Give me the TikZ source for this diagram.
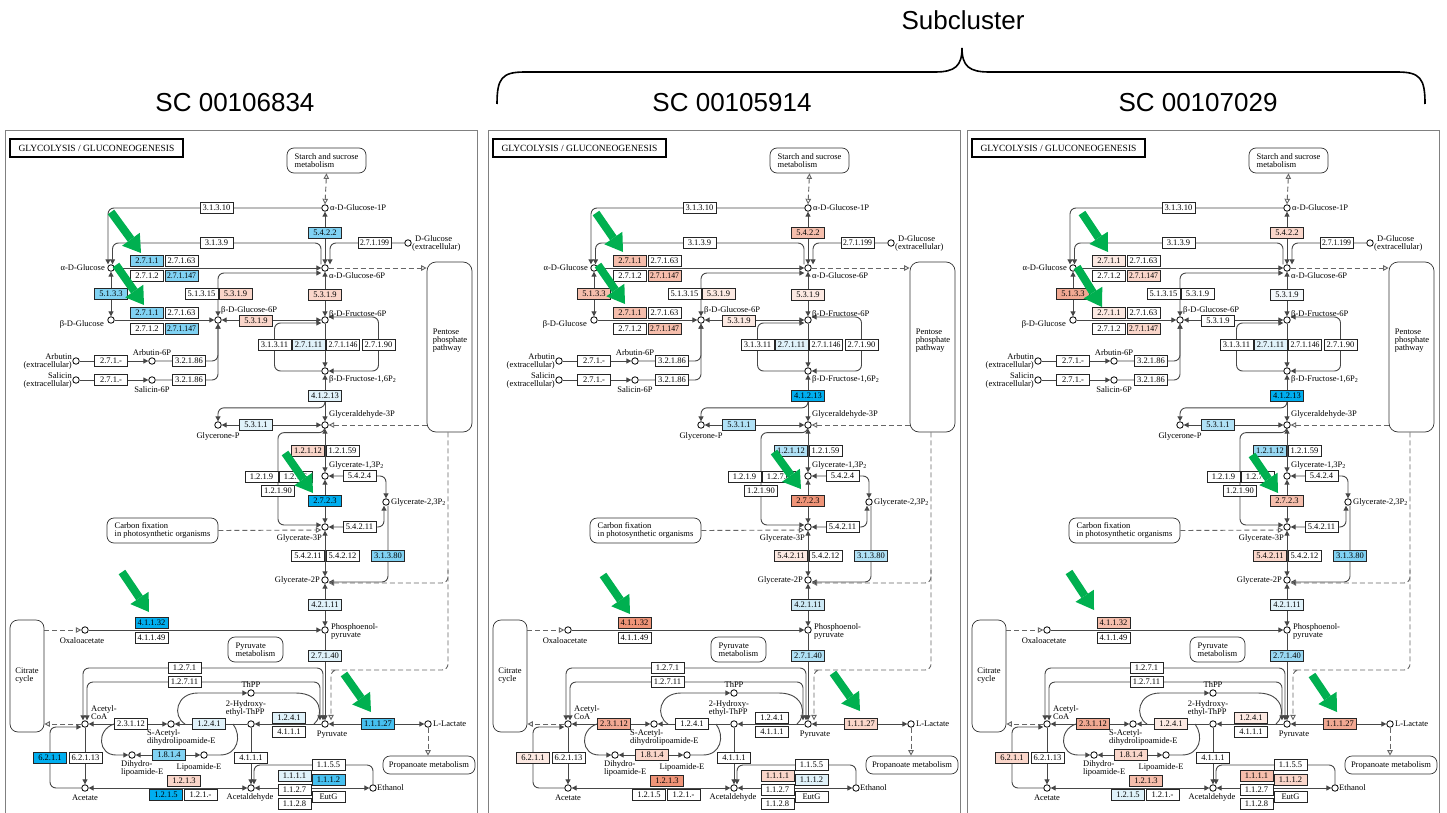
\documentclass[tikz,border=0pt]{standalone}
\usepackage{fontspec}
\usepackage{graphicx}
\setmainfont{Liberation Serif}
\newfontfamily\hfont{Liberation Sans}
\usetikzlibrary{arrows.meta,calc}

\pgfdeclarelayer{frame}
\pgfdeclarelayer{lines}
\pgfdeclarelayer{front}
\pgfsetlayers{frame,lines,main,front}

% enzyme highlight colours
\definecolor{kStrong}{RGB}{0,174,239}
\definecolor{kBlueM}{RGB}{70,192,240}
\definecolor{kBlue}{RGB}{128,210,243}
\definecolor{kBlueL2}{RGB}{152,216,243}
\definecolor{kBlueL}{RGB}{176,225,246}
\definecolor{kBlueVL2}{RGB}{205,233,246}
\definecolor{kBlueVL}{RGB}{224,242,250}
\definecolor{kBlueVVL}{RGB}{244,249,252}
\definecolor{kPinkVL}{RGB}{252,233,226}
\definecolor{kPinkL}{RGB}{250,214,202}
\definecolor{kPink}{RGB}{246,190,172}
\definecolor{kSalmonL}{RGB}{241,168,146}
\definecolor{kSalmon}{RGB}{239,148,120}
\definecolor{kGreen}{RGB}{0,176,80}

\tikzset{
  ez/.style={draw=black!85, line width=0.7pt, minimum width=33pt, minimum height=11pt,
             inner sep=0pt, font=\fontsize{8.5}{8.5}\selectfont},
  cpd/.style={circle, draw=black, line width=0.8pt, fill=white, minimum size=6.5pt, inner sep=0pt},
  lbl/.style={font=\fontsize{8.5}{8}\selectfont, inner sep=0pt, align=left},
  map/.style={draw=black!80, rounded corners=7pt, line width=0.7pt, fill=white,
              font=\fontsize{8.5}{8}\selectfont, align=left, inner sep=0pt},
  ln/.style={draw=black!72, line width=0.9pt},
  dln/.style={draw=black!60, line width=0.9pt, dash pattern=on 5pt off 3pt},
  rc/.style={rounded corners=6pt},
  kt/.tip={Triangle[length=5pt,width=5pt]},
  ko/.tip={Triangle[open,length=5.5pt,width=5.5pt]},
  garrow/.style={draw=kGreen, line width=8pt, -{Triangle[length=17pt,width=22pt,line width=0pt]}},
  title/.style={font=\hfont\fontsize{26}{26}\selectfont, inner sep=0pt},
}

\newsavebox\ezbox
\newcommand\fitlabel[1]{\sbox\ezbox{#1}\ifdim\wd\ezbox>29pt\resizebox{29pt}{\height}{#1}\else#1\fi}
\newcommand\fc[3]{\expandafter\def\csname fill:#1:#2\endcsname{#3}}
\newcommand\enz[3]{%
  \ifcsname fill:\pid:#1\endcsname
    \edef\ezfill{\csname fill:\pid:#1\endcsname}%
  \else\def\ezfill{white}\fi
  \node[ez,fill=\ezfill] (#1) at (#2) {\fitlabel{#3}};}
\newcommand\cpd[2]{\node[cpd] (#1) at (#2) {};}
\newcommand\lab[4]{\node[lbl,anchor=#3] (#1) at (#2) {#4};}
\newcommand\two{\raisebox{-1.2pt}{\fontsize{6}{6}\selectfont 2}}
\newcommand\garr[3]{\coordinate (#1s) at (#2); \coordinate (#1t) at (#3); \draw[garrow] (#1s) -- (#1t);}

% ---- fills, panel 1
\fc{1}{e2711a}{kBlue}\fc{1}{e271147a}{kBlue}\fc{1}{e2711b}{kBlue}\fc{1}{e271147b}{kBlue}
\fc{1}{e5133}{kBlue}\fc{1}{e5422}{kBlue}
\fc{1}{e5319a}{kPinkL}\fc{1}{e5319b}{kPinkL}\fc{1}{e5319c}{kPinkL}
\fc{1}{e27111}{kBlueVL}\fc{1}{e41213}{kBlueVL}\fc{1}{e5311}{kBlueVL}
\fc{1}{e12112}{kPinkL}\fc{1}{e2723}{kStrong}\fc{1}{e31380}{kBlue}
\fc{1}{e42111}{kBlueVL}\fc{1}{e27140}{kBlueVL}\fc{1}{e41132}{kStrong}
\fc{1}{e1241a}{kBlueVL}\fc{1}{e1241b}{kBlueVL}\fc{1}{e1814}{kBlue}
\fc{1}{e6211}{kStrong}\fc{1}{e1213}{kPinkL}\fc{1}{e1215}{kStrong}
\fc{1}{e1111}{kBlueVL}\fc{1}{e1112}{kBlueM}\fc{1}{e11127}{kBlueM}
% ---- fills, panel 2
\fc{2}{e5422}{kPink}\fc{2}{e2711a}{kPink}\fc{2}{e271147a}{kPink}\fc{2}{e5133}{kPink}
\fc{2}{e2711b}{kPink}\fc{2}{e271147b}{kPink}
\fc{2}{e5319a}{kPinkVL}\fc{2}{e5319b}{kPinkVL}\fc{2}{e5319c}{kPinkVL}
\fc{2}{e27111}{kBlueVL}\fc{2}{e41213}{kStrong}\fc{2}{e5311}{kBlueL}\fc{2}{e12112}{kBlueL}
\fc{2}{e2723}{kSalmon}\fc{2}{e54211b}{kPinkVL}\fc{2}{e31380}{kBlueL}
\fc{2}{e42111}{kBlueVL2}\fc{2}{e27140}{kBlueL}\fc{2}{e41132}{kSalmon}
\fc{2}{e23112}{kSalmonL}\fc{2}{e1814}{kPinkL}\fc{2}{e6211}{kPinkVL}
\fc{2}{e1213}{kSalmon}\fc{2}{e1111}{kPinkL}\fc{2}{e1112}{kBlueVL}\fc{2}{e11127}{kPinkL}
% ---- fills, panel 3
\fc{3}{e5422}{kPinkL}\fc{3}{e2711a}{kPinkVL}\fc{3}{e271147a}{kPinkL}
\fc{3}{e2711b}{kPinkVL}\fc{3}{e271147b}{kPinkL}\fc{3}{e5133}{kSalmonL}
\fc{3}{e5319b}{kBlueVVL}
\fc{3}{e27111}{kBlueVL}\fc{3}{e41213}{kStrong}\fc{3}{e5311}{kBlueL}\fc{3}{e12112}{kBlueL2}
\fc{3}{e2723}{kPink}\fc{3}{e54211b}{kPinkL}\fc{3}{e31380}{kBlue}
\fc{3}{e42111}{kBlueVL}\fc{3}{e27140}{kBlueL2}\fc{3}{e41132}{kPink}
\fc{3}{e23112}{kSalmonL}\fc{3}{e1241a}{kPinkVL}\fc{3}{e1241b}{kPinkVL}
\fc{3}{e1814}{kPinkL}\fc{3}{e6211}{kPinkL}\fc{3}{e1213}{kPink}
\fc{3}{e1215}{kBlueVL}\fc{3}{e1111}{kPink}\fc{3}{e1112}{kPinkL}\fc{3}{e11127}{kSalmonL}

% ---- one glycolysis map
\newcommand\panel[2]{%
\def\pid{#1}%
\begin{scope}[shift={(#2,0)}, name prefix=p#1-]
  \begin{pgfonlayer}{frame}
    \draw[black!50, line width=1pt] (5,131) rectangle (477,818);
  \end{pgfonlayer}
  % title and map boxes
  \node[draw=black, line width=1.1pt, minimum width=173pt, minimum height=18pt, inner sep=0pt,
        font=\fontsize{9.5}{9.5}\selectfont] (mTitle) at (96.5,148) {GLYCOLYSIS / GLUCONEOGENESIS};
  \node[map, minimum width=79pt, minimum height=25pt] (mStarch) at (326.5,160.5) {Starch and sucrose\\metabolism};
  \node[map, minimum width=45pt, minimum height=170pt, rounded corners=9pt] (mPentose) at (449.5,347) {};
  \node[lbl] (tPentose) at (450,341) {Pentose\\phosphate\\pathway};
  \node[map, minimum width=111pt, minimum height=25pt] (mCarbon) at (162.5,530.5) {Carbon fixation\\in photosynthetic organisms};
  \node[map, minimum width=34pt, minimum height=112pt, rounded corners=8pt] (mCitrate) at (27,676) {Citrate\\cycle};
  \node[map, minimum width=55pt, minimum height=25pt] (mPyrMet) at (255.5,649.5) {Pyruvate\\metabolism};
  \node[map, minimum width=92pt, minimum height=18pt] (mPropan) at (429,765) {Propanoate metabolism};
  % compounds
  \cpd{cG1P}{325,208}
  \cpd{cGlcA}{111,268}
  \cpd{cG6P}{325,268}
  \cpd{cDGlcX}{408,243}
  \cpd{cGlcB}{111,320}
  \cpd{cBG6P}{218,320}
  \cpd{cF6P}{325,320}
  \cpd{cArb}{76,361}
  \cpd{cArb6P}{152,361}
  \cpd{cSal}{76,380}
  \cpd{cSal6P}{152,380}
  \cpd{cF16}{325,371}
  \cpd{cGAP}{325,425}
  \cpd{cDHAP}{218,425}
  \cpd{cG13}{325,476}
  \cpd{cG23}{386,502}
  \cpd{cG3P}{325,527}
  \cpd{cG2P}{325,580}
  \cpd{cPEP}{325,630}
  \cpd{cPyr}{325,724}
  \cpd{cLac}{428,724}
  \cpd{cOAA}{85,630}
  \cpd{cAcCoA}{85,724}
  \cpd{cAcetate}{85,788}
  \cpd{cSAc}{171,724}
  \cpd{cHE}{251,724}
  \cpd{cThPP}{251,693}
  \cpd{cDihydro}{132,755}
  \cpd{cLipo}{204,755}
  \cpd{cAcald}{251,788}
  \cpd{cEtOH}{373,788}
  % compound names
  \lab{tG1P}{330,208}{west}{α-D-Glucose-1P}
  \lab{tGlcA}{105,268}{east}{α-D-Glucose}
  \lab{tG6P}{329,276}{west}{α-D-Glucose-6P}
  \lab{tDGlcX}{412,243}{west}{\hspace*{3pt}D-Glucose\\(extracellular)}
  \lab{tGlcB}{104,324}{east}{β-D-Glucose}
  \lab{tBG6P}{221,310}{west}{β-D-Glucose-6P}
  \lab{tF6P}{329,314}{west}{β-D-Fructose-6P}
  \lab{tArb}{72,361}{east,align=right}{Arbutin\\(extracellular)}
  \lab{tArb6P}{152,353}{center}{Arbutin-6P}
  \lab{tSal}{72,380}{east,align=right}{Salicin\\(extracellular)}
  \lab{tSal6P}{152,389.5}{center}{Salicin-6P}
  \lab{tF16}{329,379}{west}{β-D-Fructose-1,6P\two}
  \lab{tGAP}{329,414}{west}{Glyceraldehyde-3P}
  \lab{tDHAP}{218,436}{center}{Glycerone-P}
  \lab{tG13}{329,465}{west}{Glycerate-1,3P\two}
  \lab{tG23}{391,502}{west}{Glycerate-2,3P\two}
  \lab{tG3P}{322,538}{east}{Glycerate-3P}
  \lab{tG2P}{320,580}{east}{Glycerate-2P}
  \lab{tPEP}{331,631}{west}{Phosphoenol-\\pyruvate}
  \lab{tOAA}{82,641}{center}{Oxaloacetate}
  \lab{tPyr}{332,735}{center}{Pyruvate}
  \lab{tLac}{433,724}{west}{L-Lactate}
  \lab{tAcCoA}{91,712.5}{west}{Acetyl-\\CoA}
  \lab{tThPP}{251,685}{center}{ThPP}
  \lab{tHE}{246,708.5}{center}{2-Hydroxy-\\ethyl-ThPP}
  \lab{tSAc}{147,737}{west}{S-Acetyl-\\dihydrolipoamide-E}
  \lab{tDihydro}{121,768}{west}{Dihydro-\\lipoamide-E}
  \lab{tLipo}{199,767}{center}{Lipoamide-E}
  \lab{tAcetate}{85,798}{center}{Acetate}
  \lab{tAcald}{250,797.5}{center}{Acetaldehyde}
  \lab{tEtOH}{377,788}{west}{Ethanol}
  % enzymes
  \enz{e31310}{216.5,208}{3.1.3.10}
  \enz{e3139}{216.5,243}{3.1.3.9}
  \enz{e5422}{325,232.5}{5.4.2.2}
  \enz{e271199}{374.5,243}{2.7.1.199}
  \enz{e2711a}{147,260.5}{2.7.1.1}
  \enz{e27163a}{181.5,260.5}{2.7.1.63}
  \enz{e2712a}{147,276}{2.7.1.2}
  \enz{e271147a}{181.5,276}{2.7.1.147}
  \enz{e5133}{111,294}{5.1.3.3}
  \enz{e51315}{201.5,294}{5.1.3.15}
  \enz{e5319a}{235.5,294}{5.3.1.9}
  \enz{e5319b}{325,294.5}{5.3.1.9}
  \enz{e2711b}{147,312.5}{2.7.1.1}
  \enz{e27163b}{181.5,312.5}{2.7.1.63}
  \enz{e2712b}{147,328.5}{2.7.1.2}
  \enz{e271147b}{181.5,328.5}{2.7.1.147}
  \enz{e5319c}{256,320.5}{5.3.1.9}
  \enz{e271a}{111,361}{2.7.1.-}
  \enz{e32186a}{189,361}{3.2.1.86}
  \enz{e271b}{111,380}{2.7.1.-}
  \enz{e32186b}{189,380}{3.2.1.86}
  \enz{e31311}{274.5,344.5}{3.1.3.11}
  \enz{e27111}{308.5,344.5}{2.7.1.11}
  \enz{e271146}{343,344.5}{2.7.1.146}
  \enz{e27190}{378.5,344.5}{2.7.1.90}
  \enz{e41213}{325,396}{4.1.2.13}
  \enz{e5311}{256,425}{5.3.1.1}
  \enz{e12112}{308,450.5}{1.2.1.12}
  \enz{e12159}{342.5,450.5}{1.2.1.59}
  \enz{e1219}{261.5,477}{1.2.1.9}
  \enz{e1276}{295.5,477}{1.2.7.6}
  \enz{e12190}{278,490.5}{1.2.1.90}
  \enz{e5424}{359.5,476}{5.4.2.4}
  \enz{e2723}{325,501}{2.7.2.3}
  \enz{e54211a}{359.5,527}{5.4.2.11}
  \enz{e54211b}{308,555.5}{5.4.2.11}
  \enz{e54212}{342.5,555.5}{5.4.2.12}
  \enz{e31380}{388,555.5}{3.1.3.80}
  \enz{e42111}{325,605}{4.2.1.11}
  \enz{e41132}{151.5,622.5}{4.1.1.32}
  \enz{e41149}{151.5,638}{4.1.1.49}
  \enz{e27140}{325,655.5}{2.7.1.40}
  \enz{e1271}{184.5,668}{1.2.7.1}
  \enz{e12711}{184.5,682}{1.2.7.11}
  \enz{e1241a}{289,718}{1.2.4.1}
  \enz{e4111a}{289,731.5}{4.1.1.1}
  \enz{e1241b}{209,724}{1.2.4.1}
  \enz{e23112}{131,724}{2.3.1.12}
  \enz{e11127}{378,724}{1.1.1.27}
  \enz{e1814}{169,755}{1.8.1.4}
  \enz{e4111b}{251,758}{4.1.1.1}
  \enz{e6211}{50,757.5}{6.2.1.1}
  \enz{e62113}{85.5,757.5}{6.2.1.13}
  \enz{e1213}{184,780.5}{1.2.1.3}
  \enz{e1215}{166,794.5}{1.2.1.5}
  \enz{e121x}{200.5,794.5}{1.2.1.-}
  \enz{e1155}{328.5,765}{1.1.5.5}
  \enz{e1111}{294.5,775.5}{1.1.1.1}
  \enz{e1112}{328.5,780}{1.1.1.2}
  \enz{e1127}{294.5,789.5}{1.1.2.7}
  \enz{eEutG}{328.5,797}{EutG}
  \enz{e1128}{294.5,804}{1.1.2.8}
  % free ends of loops
  \coordinate (kDash) at (337,670);
  \coordinate (kG2Pj) at (448,570);
  \coordinate (kThL) at (185,724);
  \coordinate (kThR) at (314,724);
  \coordinate (kDLl) at (114,724);
  \coordinate (kDLr) at (233,724);
  \begin{pgfonlayer}{lines}
    % upper glycolysis
    \draw[dln,ko-ko] (mStarch.south) -- (cG1P.north);
    \draw[ln,rc,-kt] (cG1P.west) -| ([xshift=-3pt]cGlcA.north);
    \draw[ln,rc,-kt] ([xshift=-4pt]cG6P.north) |- (e3139.center) -| ([xshift=1.5pt]cGlcA.north);
    \draw[ln,kt-kt] (cG1P) -- (cG6P);
    \draw[ln,rc,-kt] (cDGlcX.west) -| ([xshift=5pt]cG6P.north);
    \draw[ln,-kt] (cGlcA) -- (cG6P);
    \draw[ln,rc,kt-kt] ([yshift=-5pt]cG6P.west) -| (cBG6P.north);
    \draw[ln,kt-kt] (cGlcA) -- (cGlcB);
    \draw[ln,-kt] (cGlcB) -- (cBG6P);
    \draw[ln,kt-kt] (cBG6P) -- (cF6P);
    \draw[ln,kt-kt] (cG6P) -- (cF6P);
    \draw[ln,-kt] (cArb) -- (cArb6P);
    \draw[ln,rc,-kt] (cArb6P) -| (cBG6P.south);
    \draw[ln,-kt] (cSal) -- (cSal6P);
    \draw[ln,rc,-kt] (cSal6P) -| (cBG6P.south);
    \draw[ln,-kt] (cF6P) -- (cF16);
    \draw[ln,rc,-kt] (cF16.west) -| (e31311.center) |- ([yshift=-3pt]cF6P.west);
    \draw[ln,rc,kt-kt] ([yshift=3pt]cF6P.east) -| (e27190.center) |- (cF16.east);
    \draw[ln,kt-kt] (cF16) -- (cGAP);
    \draw[ln,rc,-kt] (e41213.south) -- ++(0,6) -| (cDHAP.north);
    \draw[ln,kt-kt] (cDHAP) -- (cGAP);
    % lower glycolysis
    \draw[ln,kt-kt] (cGAP) -- (cG13);
    \draw[ln,rc,-kt] (cGAP.south) -- ++(0,4) -| (e12190.center) |- ([yshift=2pt]cG3P.west);
    \draw[ln,kt-kt] (cG13) -- (cG3P);
    \draw[ln,rc,kt-kt] (cG13.east) -| (cG23.north);
    \draw[ln,rc,kt-kt] (cG3P.east) -| ([xshift=-2pt]cG23.south);
    \draw[ln,kt-kt] (cG3P) -- (cG2P);
    \draw[ln,rc,-kt] ([xshift=2pt]cG23.south) |- ([yshift=-2pt]cG2P.east);
    \draw[ln,kt-kt] (cG2P) -- (cPEP);
    \draw[ln,-kt] (cOAA) -- (cPEP);
    \draw[ln,-kt] (cPEP) -- (cPyr);
    \draw[ln,kt-kt] (cPyr) -- (cLac);
    \draw[dln,-ko] (cLac) -- (cLac |- mPropan.north);
    \draw[ln,rc,kt-kt] ([xshift=-2pt]cAcCoA.north) |- (e1271.center) -| ([xshift=-2pt]cPyr.north);
    \draw[ln,rc,kt-kt] ([xshift=2pt]cAcCoA.north) |- (e12711.center) -| ([xshift=-5pt]cPyr.north);
    % links to other maps
    \draw[dln,-ko] (cG6P) -- (mPentose.west |- cG6P);
    \draw[dln,ko-] (cGAP) -- (mPentose.west |- cGAP);
    \draw[dln,rc,-ko] ([xshift=-1.5pt]mPentose.south) |- (kDash) -| ([xshift=6pt]cPyr.north);
    \draw[dln,rc,ko-] ([yshift=-3pt]cG2P.east) -| (kG2Pj);
    \draw[dln,-ko] (mCarbon.east) -- ([yshift=-3pt]cG3P.west);
    \draw[dln,-ko] (cAcCoA.west) -- (mCitrate.east |- cAcCoA.west);
    \draw[dln,-ko] (mCitrate.east |- cOAA) -- (cOAA);
    % pyruvate to acetyl-CoA, acetate and ethanol
    \draw[ln,kt-kt] (cAcCoA) -- (cSAc);
    \draw[ln,-kt] (cHE) -- (cSAc);
    \draw[ln,-kt] (cPyr) -- (cHE);
    \draw[ln,-kt] (kThL) .. controls (172,716) and (176,693) .. (198,693) -- (cThPP);
    \draw[ln] (cThPP) -- (296,693) .. controls (322,693) and (324,716) .. (kThR);
    \draw[ln,-kt] (kDLl) .. controls (96,730) and (98,755) .. (116,755) -- (cDihydro);
    \draw[ln,kt-kt] (cDihydro) -- (cLipo);
    \draw[ln] (cLipo) -- (220,755) .. controls (238,755) and (242,736) .. (kDLr);
    \draw[ln,-kt] (cHE) -- (cAcald);
    \draw[ln,rc,-kt] (cEtOH.north) |- (e1155.center) -| ([xshift=3pt]cAcald.north);
    \draw[ln,kt-kt] (cAcald) -- (cEtOH);
    \draw[ln,kt-kt] (cAcetate) -- (cAcald);
    \draw[ln,-kt] (cAcCoA) -- (cAcetate);
    \draw[ln,rc,-kt] (cAcetate.west) -| (e6211.center) |- ([yshift=-3pt]cAcCoA.west);
  \end{pgfonlayer}
\end{scope}}

\begin{document}
\begin{tikzpicture}[x=1pt, y=-1pt]
  \useasboundingbox (0,0) rectangle (1447,813);
  \begin{pgfonlayer}{frame}
    \fill[white] (0,0) rectangle (1447,813);
  \end{pgfonlayer}

  % headings
  \node[title] (hSub) at (963,20) {Subcluster};
  \node[title] (hA) at (235,103) {SC 00106834};
  \node[title] (hB) at (732,103) {SC 00105914};
  \node[title] (hC) at (1198,103) {SC 00107029};
  \coordinate (bL) at (497,104);
  \coordinate (bTip) at (962,48);
  \coordinate (bR) at (1425,104);
  \draw[line width=1.6pt] (bL) .. controls (497,78) and (502,72) .. (525,72) -- (935,72)
        .. controls (955,72) and (962,66) .. (bTip)
        .. controls (962,66) and (969,72) .. (989,72) -- (1397,72)
        .. controls (1420,72) and (1425,78) .. (bR);

  \panel{1}{0}
  \panel{2}{483}
  \panel{3}{962}

  % highlight arrows
  \begin{pgfonlayer}{front}
    \garr{gA1}{111,212}{141,253}
    \garr{gA2}{116,265}{144,305}
    \garr{gA3}{285,453}{313,493}
    \garr{gA4}{122,572}{149,612}
    \garr{gA5}{344,674}{371,712}
    \garr{gB1}{596,213}{623,252}
    \garr{gB2}{598,265}{625,304}
    \garr{gB3}{774,452}{801,489}
    \garr{gB4}{603,575}{630,614}
    \garr{gB5}{833,673}{860,711}
    \garr{gC1}{1082,213}{1108,252}
    \garr{gC2}{1077,267}{1102,307}
    \garr{gC3}{1252,455}{1278,493}
    \garr{gC4}{1069,572}{1094,610}
    \garr{gC5}{1312,675}{1337,712}
  \end{pgfonlayer}
\end{tikzpicture}
\end{document}
